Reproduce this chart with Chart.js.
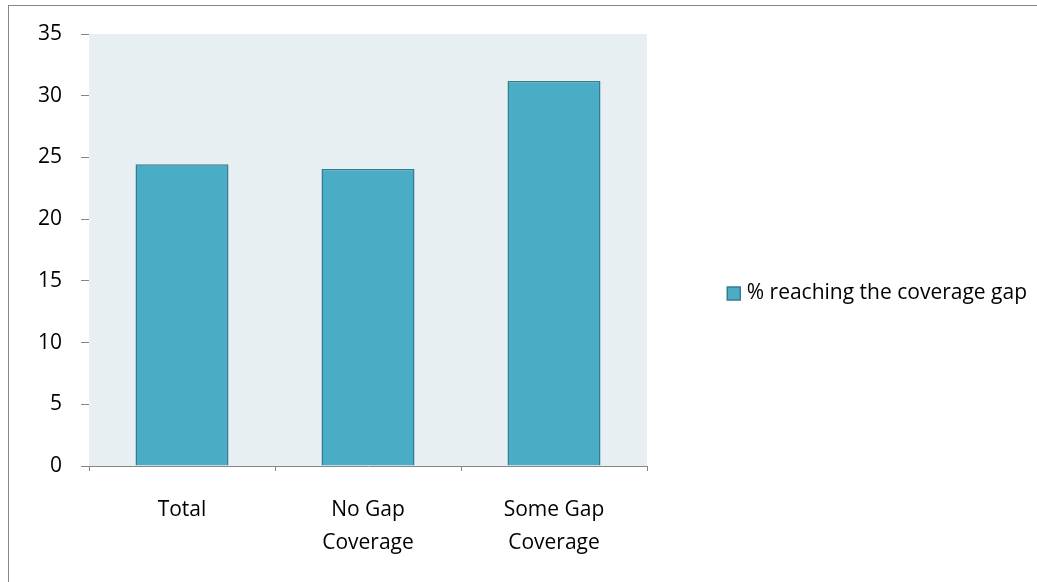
<!DOCTYPE html>
<html>
<head>
<meta charset="utf-8">
<script src="https://cdn.jsdelivr.net/npm/chart.js@4/dist/chart.umd.min.js"></script>
<style>
  body { margin: 0; background: #fff; }
  #wrap { position: relative; width: 1037px; height: 582px; overflow: hidden; }
  #frame { position: absolute; left: 8px; top: 5px; right: -10px; bottom: -10px;
           border-left: 1px solid #868686; border-top: 1px solid #868686; }
  canvas { position: absolute; left: 0; top: 0; }
</style>
</head>
<body>
<div id="wrap">
  <div id="frame"></div>
  <canvas id="chart" width="1037" height="582"></canvas>
</div>
<script>
// --- Data ---
const categories = ["Total", ["No Gap", "Coverage"], ["Some Gap", "Coverage"]];
const seriesLabel = "% reaching the coverage gap";
const values = [24.45, 24.07, 31.2];
const yMin = 0, yMax = 35, yStep = 5;

// --- Style ---
const FONT = "'Open Sans'";
const FONT_SIZE = 21;
const AXIS_GREY = '#868686';
const BAR_FILL = '#4bacc6';
const BAR_EDGE = '#357d91';
const PLOT_BG = '#e8eff3';
const PLOT_RIGHT = 647; // right edge of plot area in px

// plot background
const plotBg = {
    id: 'plotBg',
    beforeDatasetsDraw(chart) {
        const {ctx, chartArea: a} = chart;
        ctx.save();
        ctx.fillStyle = PLOT_BG;
        ctx.fillRect(a.left, a.top, a.right - a.left, a.bottom - a.top);
        ctx.restore();
    }
};

Chart.defaults.font.family = FONT;
Chart.defaults.font.size = FONT_SIZE;
Chart.defaults.color = '#000';

new Chart(document.getElementById('chart'), {
    type: 'bar',
    data: {
        labels: categories,
        datasets: [{
            label: seriesLabel,
            data: values,
            backgroundColor: BAR_FILL,
            borderColor: BAR_EDGE,
            borderWidth: 1.5,
            barPercentage: 0.5,
            categoryPercentage: 1.0
        }]
    },
    options: {
        responsive: false,
        animation: false,
        layout: { padding: { left: 0, top: 5, right: 0, bottom: 0 } },
        plugins: {
            legend: {
                position: 'right',
                align: 'center',
                maxWidth: 600,
                labels: {
                    usePointStyle: true, pointStyle: 'rect',
                    boxWidth: 5, boxHeight: 13, padding: 10,
                    font: { size: FONT_SIZE }
                }
            },
            tooltip: { enabled: false }
        },
        scales: {
            x: {
                grid: { drawOnChartArea: false, color: AXIS_GREY, tickLength: 5 },
                border: { color: AXIS_GREY },
                ticks: { padding: 23, maxRotation: 0, font: { size: FONT_SIZE, lineHeight: 1.57 } },
                afterFit(s) { s.height = 116; }
            },
            y: {
                min: yMin, max: yMax,
                grid: { drawOnChartArea: false, color: AXIS_GREY, tickLength: 8 },
                border: { color: AXIS_GREY },
                ticks: { stepSize: yStep, padding: 19 },
                afterFit(s) { s.width = 89; s.paddingTop = 34; }
            },
            // empty spacer between plot and legend
            gap: {
                type: 'linear', position: 'right', display: true,
                grid: { display: false, drawTicks: false },
                border: { display: false },
                ticks: { display: false },
                afterFit(s) {
                    const lg = s.chart.legend;
                    s.width = Math.max(0, s.chart.width - (lg ? lg.width : 0) - PLOT_RIGHT);
                }
            }
        }
    },
    plugins: [plotBg]
});
</script>
</body>
</html>
